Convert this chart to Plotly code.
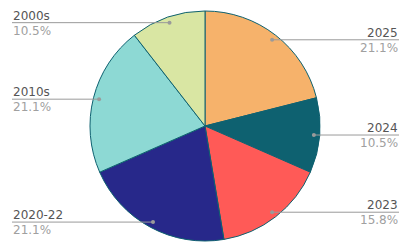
import math
import plotly.graph_objects as go

labels = ["2025", "2024", "2023", "2020-22", "2010s", "2000s"]
values = [4, 2, 3, 4, 4, 2]
colors = ["#F6B26B", "#0E6170", "#FF5A57", "#27288A", "#8DD9D4", "#D9E6A3"]

W, H = 412, 249
CX, CY, R = 205, 126, 115
LEFT_X, RIGHT_X = 12, 399

fig = go.Figure()
fig.add_trace(go.Pie(
    labels=labels, values=values, sort=False, direction="clockwise", rotation=0,
    marker=dict(colors=colors, line=dict(color="#0E6170", width=1)),
    textinfo="none", hoverinfo="label+percent", showlegend=False,
    domain=dict(x=[(CX - R) / W, (CX + R) / W], y=[(H - CY - R) / H, (H - CY + R) / H]),
))

total = sum(values)
cum = 0
shapes, annotations = [], []
for lab, v in zip(labels, values):
    mid = (cum + v / 2) / total * 2 * math.pi
    cum += v
    px = CX + 0.95 * R * math.sin(mid)
    py = CY - 0.95 * R * math.cos(mid)
    right = math.sin(mid) > 0
    ex = RIGHT_X if right else LEFT_X
    xp = lambda x: x / W
    yp = lambda y: 1 - y / H
    shapes.append(dict(type="line", xref="paper", yref="paper", x0=xp(px), y0=yp(py), x1=xp(ex), y1=yp(py),
                       line=dict(color="#9a9a9a", width=1)))
    shapes.append(dict(type="circle", xref="paper", yref="paper", x0=xp(px - 2), y0=yp(py - 2), x1=xp(px + 2), y1=yp(py + 2),
                       fillcolor="#9a9a9a", line=dict(width=0)))
    anchor = "right" if right else "left"
    annotations.append(dict(xref="paper", yref="paper", x=xp(ex), y=yp(py), text=lab, showarrow=False,
                            xanchor=anchor, yanchor="bottom", yshift=-1, borderpad=0,
                            font=dict(family="DejaVu Sans", size=12, color="#555555")))
    annotations.append(dict(xref="paper", yref="paper", x=xp(ex), y=yp(py), text=f"{v / total * 100:.1f}%", showarrow=False,
                            xanchor=anchor, yanchor="top", yshift=0, borderpad=0,
                            font=dict(family="DejaVu Sans", size=12, color="#a0a0a0")))

fig.update_layout(width=W, height=H, margin=dict(l=0, r=0, t=0, b=0),
                  paper_bgcolor="white", plot_bgcolor="white",
                  shapes=shapes, annotations=annotations)
fig.write_html("out.html")
